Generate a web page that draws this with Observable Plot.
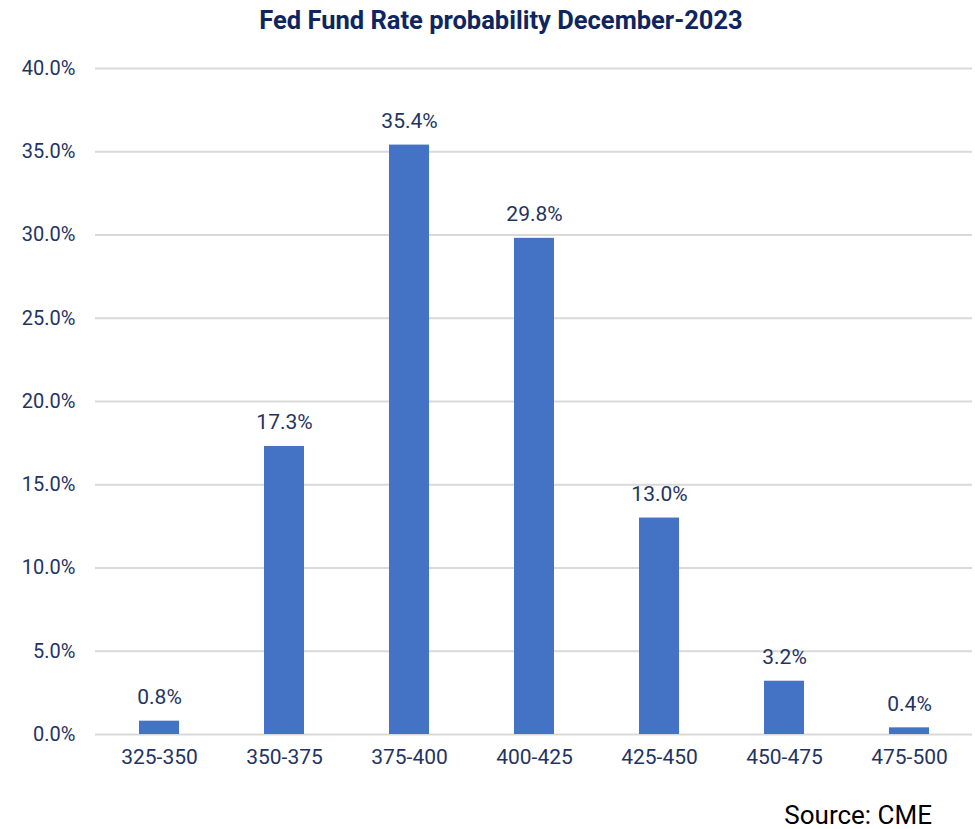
<!DOCTYPE html>
<html><head><meta charset="utf-8">
<script src="https://cdn.jsdelivr.net/npm/d3@7"></script>
<script src="https://cdn.jsdelivr.net/npm/@observablehq/plot@0.6"></script>
<style>
body{margin:0;background:#fff;font-family:Roboto,sans-serif}
#wrap{position:relative;width:975px;height:829px;overflow:hidden}
#title{position:absolute;top:0;left:0;width:1002px;text-align:center;font:bold 25.5px/40px Roboto,sans-serif;color:#0f2560;z-index:2}
#source{position:absolute;top:803px;right:43px;font:26px/25px Roboto,sans-serif;color:#000;z-index:2}
#chart{position:absolute;top:0;left:0}
</style></head>
<body>
<div id="wrap">
<div id="title">Fed Fund Rate probability December-2023</div>
<div id="chart"></div>
<div id="source">Source: CME</div>
</div>
<script>
const ranges = ["325-350","350-375","375-400","400-425","425-450","450-475","475-500"];
const probs = [0.8, 17.3, 35.4, 29.8, 13.0, 3.2, 0.4];
const yTicks = [0,5,10,15,20,25,30,35,40];

const data = ranges.map((r,i)=>({range:r, p:probs[i]}));
const navy = "#1f3461";
const fmt = d => d.toFixed(1) + "%";

const chart = Plot.plot({
  width: 975, height: 829,
  marginTop: 68, marginBottom: 95, marginLeft: 95, marginRight: 3,
  style: {fontFamily: "Roboto, sans-serif", fontSize: "20px", color: navy, background: "transparent"},
  x: {domain: ranges, paddingInner: 0.68, paddingOuter: 0.34, label: null},
  y: {domain: [0, 40], label: null},
  marks: [
    Plot.gridY(yTicks, {stroke: "#d9d9d9", strokeOpacity: 1, strokeWidth: 2}),
    Plot.axisY(yTicks, {tickSize: 0, tickPadding: 20, tickFormat: fmt, label: null, fill: navy, fontSize: 20}),
    Plot.axisX({tickSize: 0, tickPadding: 15, label: null, fill: navy, fontSize: 21}),
    Plot.barY(data, {x: "range", y: "p", fill: "#4472c4"}),
    Plot.text(data, {x: "range", y: "p", text: d => fmt(d.p), dy: -24, fill: navy, fontSize: 21})
  ]
});
document.getElementById("chart").appendChild(chart);
</script>
</body></html>
